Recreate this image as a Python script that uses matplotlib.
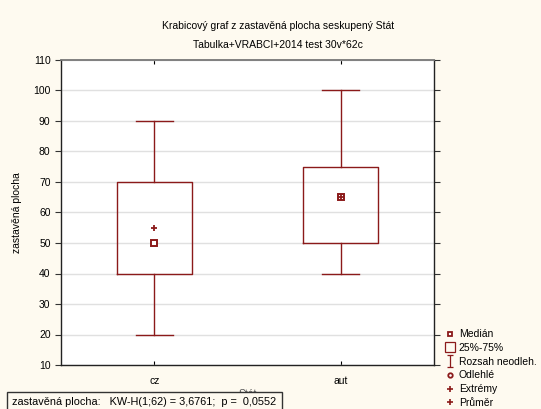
import matplotlib
matplotlib.use("Agg")
import matplotlib.pyplot as plt
from matplotlib.lines import Line2D
from matplotlib.path import Path

plt.rcParams['font.family'] = ['Liberation Sans', 'DejaVu Sans']
plt.rcParams['font.size'] = 7.5

# data
groups = ["cz", "aut"]
medians = [50, 65]
q1 = [40, 50]
q3 = [70, 75]
whisk_lo = [20, 40]
whisk_hi = [90, 100]
means = [55, 65]
yticks = [10, 20, 30, 40, 50, 60, 70, 80, 90, 100, 110]

red = "#8b1a1a"
cream = "#fefaf0"

fig = plt.figure(figsize=(5.41, 4.09), dpi=100, facecolor=cream)
ax = fig.add_axes([61/541, 1-365/409, (434-61)/541, (365-60)/409])
ax.set_facecolor("white")

stats = []
for i in range(len(groups)):
    stats.append({"label": groups[i], "med": medians[i], "q1": q1[i], "q3": q3[i],
                  "whislo": whisk_lo[i], "whishi": whisk_hi[i], "mean": means[i],
                  "fliers": []})

pos = list(range(1, len(groups) + 1))
ax.bxp(stats, positions=pos, widths=0.4, showmeans=True, showfliers=False,
       boxprops=dict(color=red, linewidth=1.0),
       whiskerprops=dict(color=red, linewidth=1.0),
       capprops=dict(color=red, linewidth=1.0),
       medianprops=dict(linestyle="none"),
       meanprops=dict(marker="+", markersize=4.5, markeredgewidth=1.3,
                      markeredgecolor=red, markerfacecolor=red),
       capwidths=0.2, zorder=3)
# median drawn as small square marker
ax.plot(pos, medians, ls="none", marker="s", markersize=4.5, markerfacecolor="white",
        markeredgecolor=red, markeredgewidth=1.4, zorder=2)

ax.set_xlim(0.5, 2.5)
ax.set_ylim(10, 110)
ax.set_yticks(yticks)
ax.yaxis.grid(True, color="#e0e0e0", linewidth=1.0, zorder=0)
ax.set_axisbelow(True)
ax.tick_params(axis="y", direction="out", length=4, right=True, color="#333333")
ax.tick_params(axis="y", which="both", labelsize=7.5)
ax.tick_params(axis="x", direction="in", length=3, top=True, labelsize=7.5, pad=8)
for s in ax.spines.values():
    s.set_color("#222222")
    s.set_linewidth(1.0)
ax.spines["top"].set_color("#777777")
ax.spines["top"].set_linewidth(1.3)

ax.set_ylabel("zastavěná plocha", labelpad=8)
ax.set_xlabel("Stát", labelpad=2, color="#555555")

fig.text(0.514, 1-26/409, "Krabicový graf z zastavěná plocha seskupený Stát",
         ha="center", va="center", fontsize=7.5)
fig.text(0.514, 1-45/409, "Tabulka+VRABCI+2014 test 30v*62c",
         ha="center", va="center", fontsize=7.5)

fig.text(12/541, 1-402/409, "zastavěná plocha:   KW-H(1;62) = 3,6761;  p =  0,0552",
         ha="left", va="center", fontsize=7.8, zorder=5,
         bbox=dict(boxstyle="square,pad=0.5", facecolor=cream, edgecolor="#333333",
                   linewidth=1.0))

# I-beam marker for whisker range
ibeam = Path([(-0.5, 1), (0.5, 1), (0, 1), (0, -1), (-0.5, -1), (0.5, -1)],
             [Path.MOVETO, Path.LINETO, Path.MOVETO, Path.LINETO, Path.MOVETO, Path.LINETO])
handles = [
    Line2D([], [], ls="none", marker="s", markersize=3.5, markerfacecolor="white",
           markeredgecolor=red, markeredgewidth=1.3),
    Line2D([], [], ls="none", marker="s", markersize=7.5, markerfacecolor="none",
           markeredgecolor=red, markeredgewidth=0.9),
    Line2D([], [], ls="none", marker=ibeam, markersize=8.5, markeredgecolor=red,
           markeredgewidth=0.9),
    Line2D([], [], ls="none", marker="o", markersize=3.2, markerfacecolor="white",
           markeredgecolor=red, markeredgewidth=1.3),
    Line2D([], [], ls="none", marker="+", markersize=4.5, markeredgecolor=red,
           markeredgewidth=1.2),
    Line2D([], [], ls="none", marker="+", markersize=4.5, markeredgecolor=red,
           markeredgewidth=1.2),
]
labels = ["Medián", "25%-75%", "Rozsah neodleh.", "Odlehlé", "Extrémy", "Průměr"]
fig.legend(handles, labels, loc="upper left", bbox_to_anchor=(441/541, 1-324/409),
           frameon=False, handlelength=0.8, handletextpad=0.4, labelspacing=0.36,
           borderpad=0, fontsize=7.5)

fig.savefig("out.png", dpi=100, facecolor=cream)
